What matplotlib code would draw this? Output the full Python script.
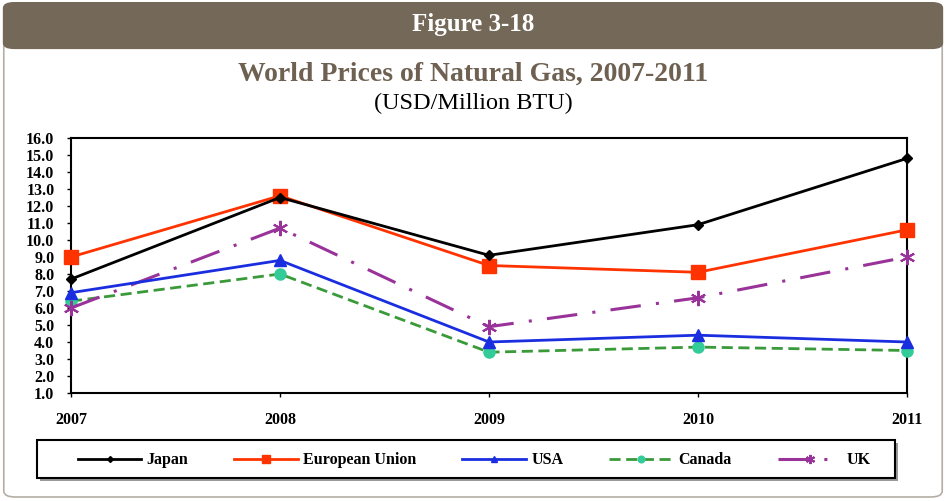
import matplotlib.pyplot as plt
from matplotlib.patches import FancyBboxPatch, Rectangle

plt.rcParams["font.family"] = ["Liberation Serif", "DejaVu Serif"]

years = [2007, 2008, 2009, 2010, 2011]
japan = [7.7, 12.5, 9.1, 10.9, 14.8]
eu = [9.0, 12.6, 8.5, 8.1, 10.6]
usa = [6.9, 8.8, 4.0, 4.4, 4.0]
canada = [6.4, 8.0, 3.4, 3.7, 3.5]
uk = [6.0, 10.7, 4.9, 6.6, 9.0]
yticks = [1.0 + i for i in range(16)]

W, H = 946, 501
fig = plt.figure(figsize=(W / 100, H / 100), dpi=100)

# header bar and outer frame
frame = FancyBboxPatch((0.004, 0.008), 0.992, 0.93, boxstyle="round,pad=0,rounding_size=0.012",
                       transform=fig.transFigure, facecolor="white", edgecolor="#b5aea6",
                       lw=1.2, zorder=-2)
fig.patches.append(frame)
header = FancyBboxPatch((0.003, 0.902), 0.994, 0.094, boxstyle="round,pad=0,rounding_size=0.012",
                        transform=fig.transFigure, facecolor="#746858", edgecolor="none", zorder=-1)
fig.patches.append(header)
fig.text(0.5, 0.951, "Figure 3-18", color="white", fontsize=18, fontweight="bold",
         ha="center", va="center")
fig.text(0.5, 0.851, "World Prices of Natural Gas, 2007-2011", color="#6e6152", fontsize=20,
         fontweight="bold", ha="center", va="center")
fig.text(0.5, 0.793, "(USD/Million BTU)", color="black", fontsize=17.5, ha="center", va="center")

ax = fig.add_axes([71 / W, 1 - 393 / H, (907 - 71) / W, (393 - 138) / H])

ax.plot(years, japan, color="black", lw=2, marker="D", ms=5, label="Japan", clip_on=False, zorder=5)
ax.plot(years, eu, color="#ff3300", lw=2, marker="s", ms=10, label="European Union", clip_on=False, zorder=4)
ax.plot(years, usa, color="#1a2ee0", lw=2, marker="^", ms=8, label="USA", clip_on=False, zorder=4)
ax.plot(years, canada, color="#3a9a3a", lw=2, ls=(0, (4, 2)), marker="o", ms=8,
        markerfacecolor="#33cc99", markeredgecolor="#33cc99", label="Canada", clip_on=False, zorder=3)
ax.plot(years, uk, color="#993399", lw=2.2, ls=(0, (10, 5, 1, 5)), marker=(6, 2, 0), ms=11,
        mew=1.5, label="UK", clip_on=False, zorder=3)

ax.set_xlim(2007, 2011)
ax.set_ylim(1, 16)
ax.set_xticks(years)
ax.set_xticklabels([str(y) for y in years])
ax.set_yticks(yticks)
ax.set_yticklabels([f"{v:.1f}" for v in yticks])
ax.tick_params(direction="out", length=3, width=1, labelsize=11.5)
ax.tick_params(axis="y", pad=9)
ax.tick_params(axis="x", pad=11)
for lab in ax.get_xticklabels() + ax.get_yticklabels():
    lab.set_fontweight("bold")
for s in ax.spines.values():
    s.set_linewidth(1.5)

# legend box drawn by hand (with a soft shadow), entries spread inside it
fig.patches.append(Rectangle((40 / W, 1 - 481 / H), (895 - 37) / W, 38 / H, transform=fig.transFigure,
                             facecolor="#9a9a9a", edgecolor="none", zorder=-1))
fig.patches.append(Rectangle((37 / W, 1 - 478 / H), (895 - 37) / W, 38 / H, transform=fig.transFigure,
                             facecolor="white", edgecolor="black", lw=1.5, zorder=-0.5))
leg = fig.legend(loc="lower left", bbox_to_anchor=(68 / W, 1 - 478 / H, (880 - 68) / W, 38 / H),
                 mode="expand", ncol=5, frameon=False,
                 prop={"weight": "bold", "size": 11.5}, handlelength=4.0, markerscale=0.6,
                 handletextpad=0.3, borderpad=0.6, borderaxespad=0)

fig.savefig("out.png", dpi=100)
